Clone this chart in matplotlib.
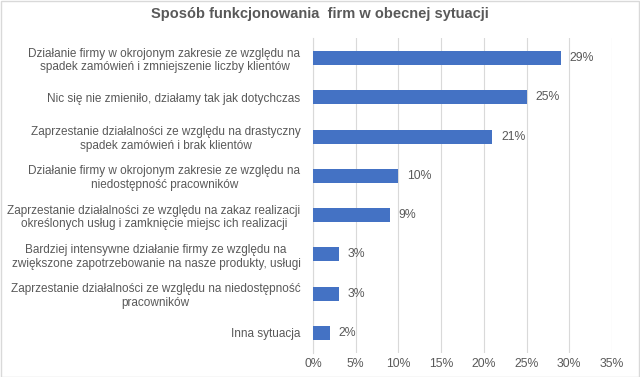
import matplotlib.pyplot as plt
from matplotlib.patches import Rectangle

# dane z wykresu
kategorie = [
    "Działanie firmy w okrojonym zakresie ze względu na\nspadek zamówień i zmniejszenie liczby klientów",
    "Nic się nie zmieniło, działamy tak jak dotychczas",
    "Zaprzestanie działalności ze względu na drastyczny\nspadek zamówień i brak klientów",
    "Działanie firmy w okrojonym zakresie ze względu na\nniedostępność pracowników",
    "Zaprzestanie działalności ze względu na zakaz realizacji\nokreślonych usług i zamknięcie miejsc ich realizacji",
    "Bardziej intensywne działanie firmy ze względu na\nzwiększone zapotrzebowanie na nasze produkty, usługi",
    "Zaprzestanie działalności ze względu na niedostępność\npracowników",
    "Inna sytuacja",
]
wartosci = [29, 25, 21, 10, 9, 3, 3, 2]
ticki = [0, 5, 10, 15, 20, 25, 30, 35]

plt.rcParams['font.family'] = ['Liberation Sans', 'DejaVu Sans']
szary = "#595959"

fig = plt.figure(figsize=(6.4, 3.77), dpi=100)
ax = fig.add_axes([313 / 640, 1 - 352.6 / 377, (612 - 313) / 640, (352.6 - 38.4) / 377])

pozycje = list(range(len(kategorie)))
bary = ax.barh(pozycje, wartosci, height=0.36, color="#4472C4", zorder=3)
for b, w in zip(bary, wartosci):
    ax.text(b.get_width() + 1.0, b.get_y() + b.get_height() / 2, f"{w}%",
            va="center", ha="left", fontsize=8.8, color=szary)

ax.set_yticks(pozycje)
ax.set_yticklabels(kategorie, fontsize=8.5, color=szary, multialignment="center")
ax.set_ylim(len(kategorie) - 0.5, -0.5)
ax.set_xlim(0, 35)
ax.set_xticks(ticki)
ax.set_xticklabels([f"{t}%" for t in ticki], fontsize=8.8, color=szary)
ax.tick_params(axis="y", length=0, pad=9)
ax.tick_params(axis="x", length=0, pad=4)
ax.grid(axis="x", color="#D9D9D9", linewidth=0.8, zorder=0)
for s in ["top", "right", "bottom"]:
    ax.spines[s].set_visible(False)
ax.spines["left"].set_color("#D9D9D9")

fig.text(0.5, 1 - 14 / 377, "Sposób funkcjonowania  firm w obecnej sytuacji",
         ha="center", va="center", fontsize=10.5, fontweight="bold", color=szary)

fig.patches.append(Rectangle((0.001, 0.001), 0.998, 0.997, transform=fig.transFigure,
                             fill=False, edgecolor="#D9D9D9", linewidth=1))

fig.savefig("out.png", dpi=100)
